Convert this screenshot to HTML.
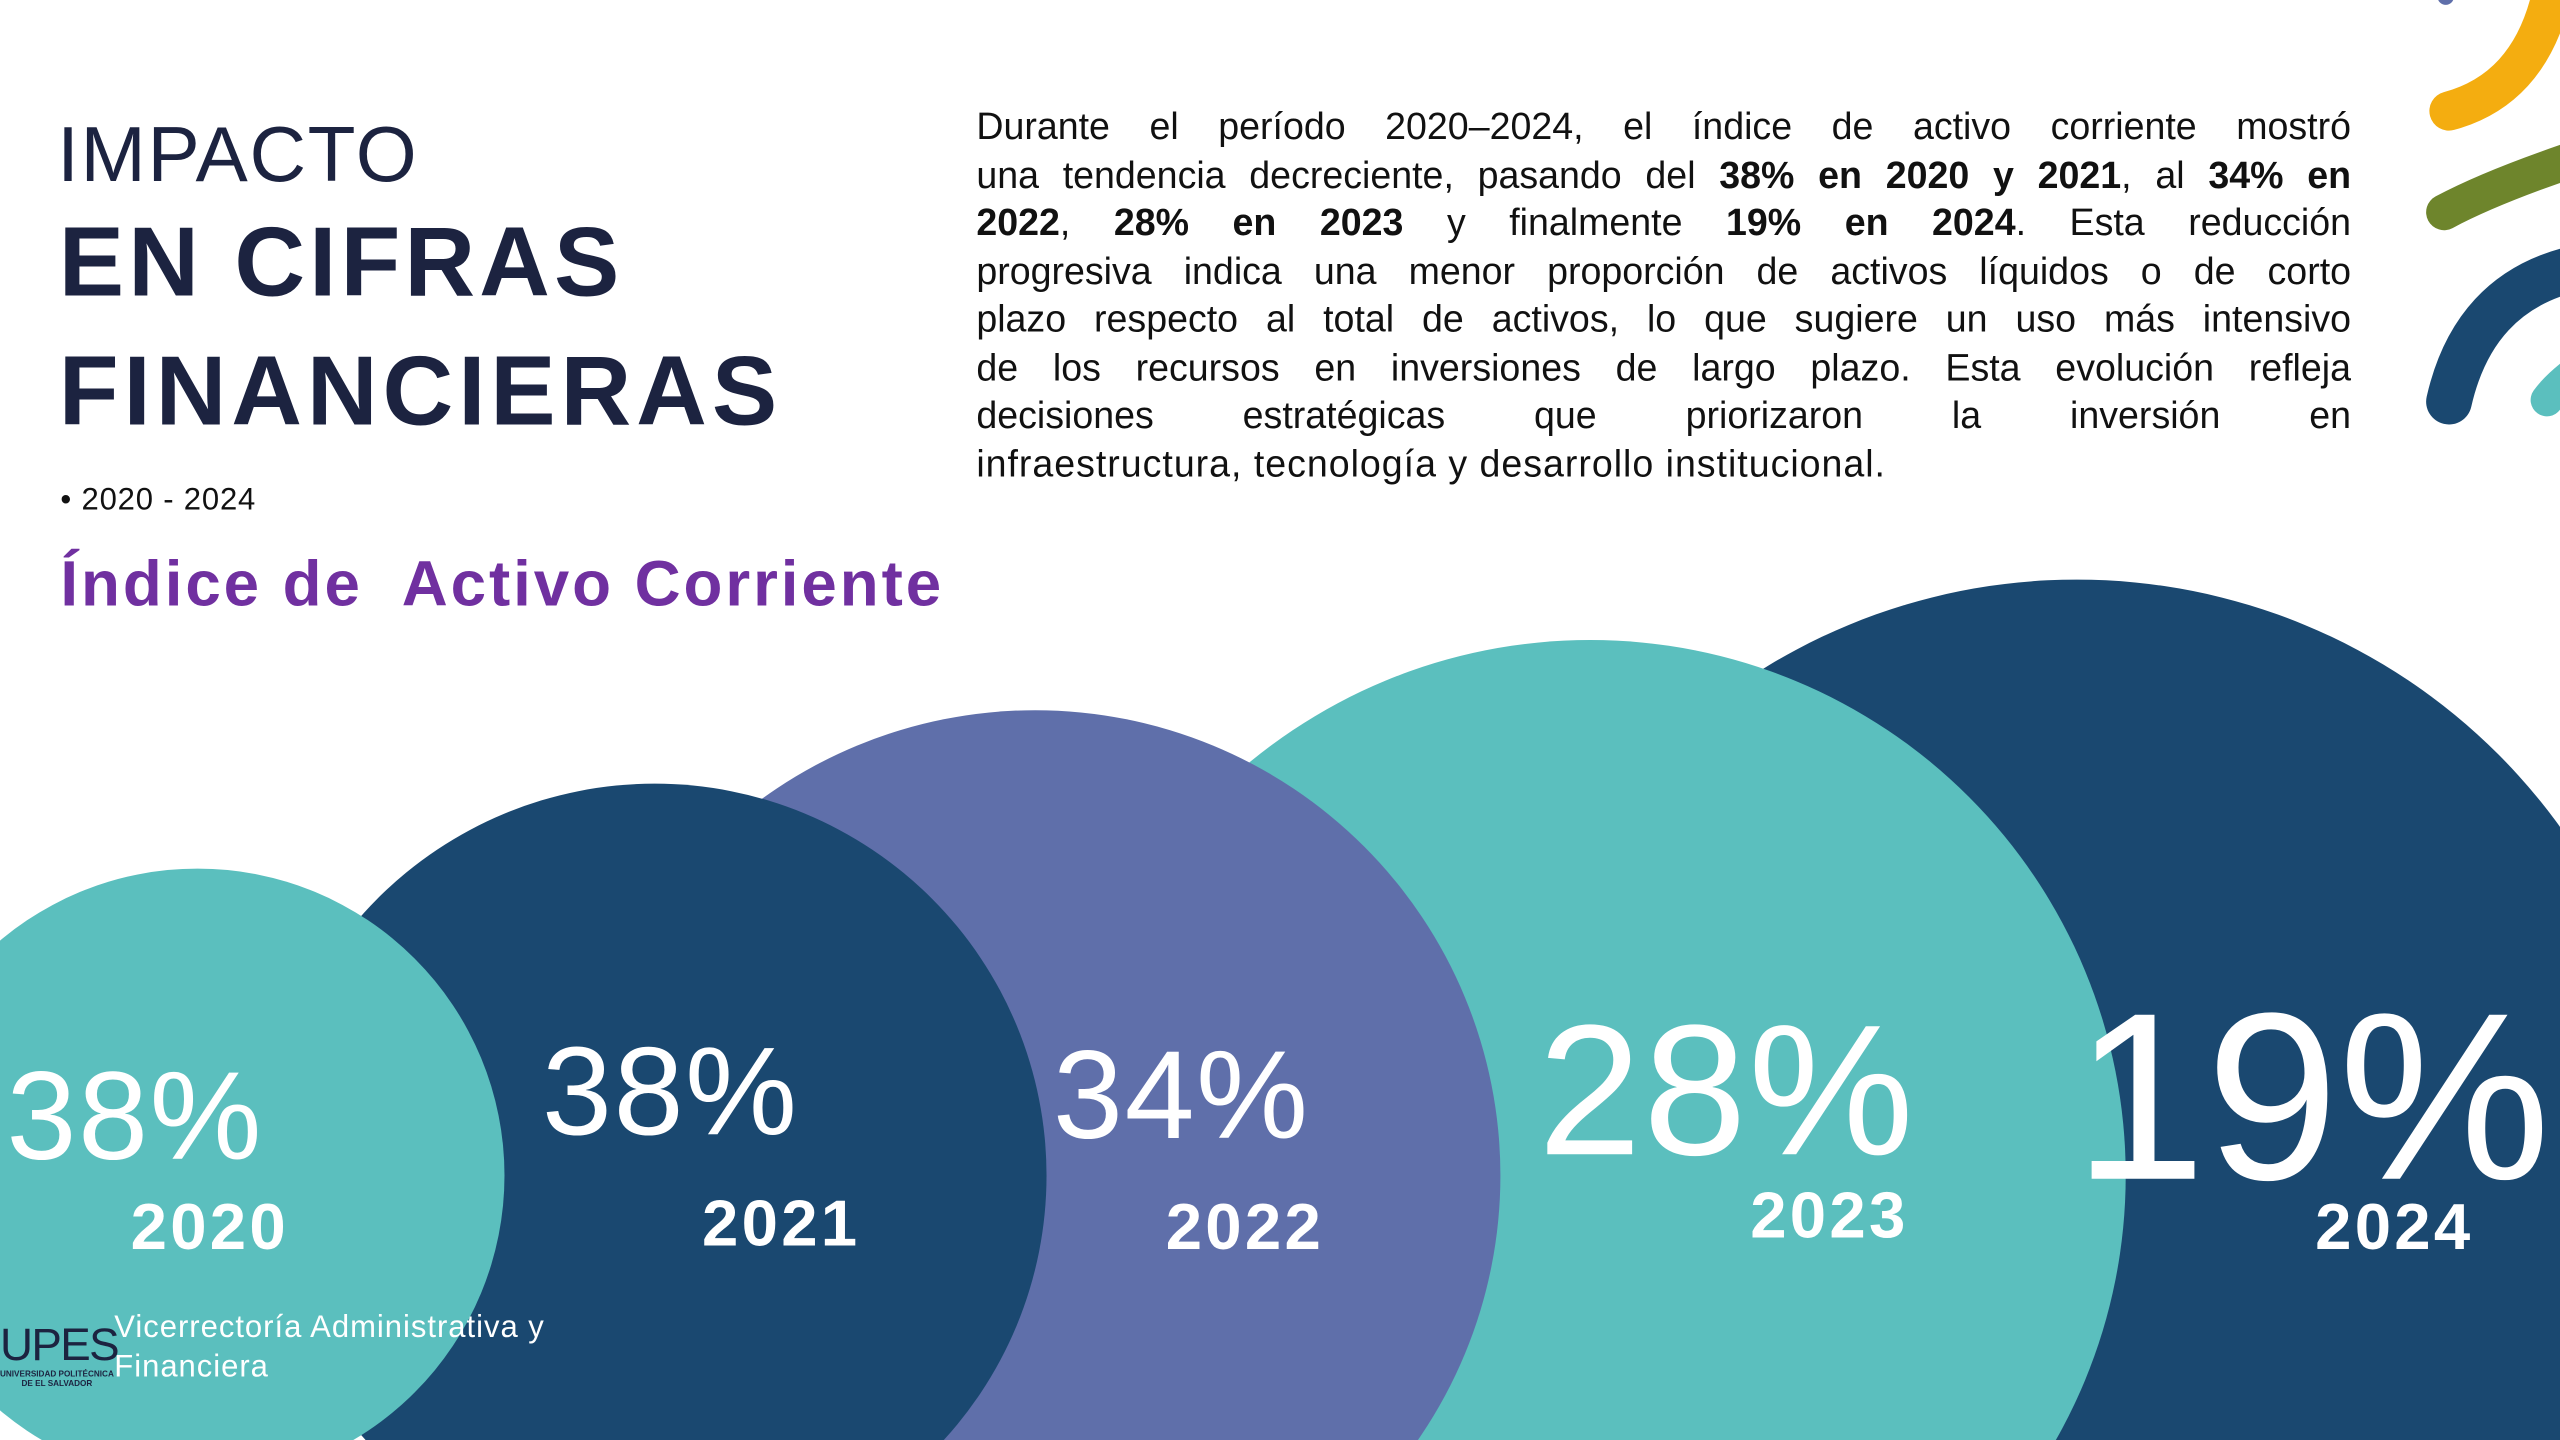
<!DOCTYPE html>
<html><head><meta charset="utf-8"><style>
html,body{margin:0;padding:0;background:#fff;width:2560px;height:1440px;overflow:hidden;}
body{position:relative;}
#s{position:absolute;left:0;top:0;width:1568px;height:882px;overflow:hidden;transform:scale(1.632653);transform-origin:0 0;font-family:"Liberation Sans",sans-serif;}
.a{position:absolute;white-space:nowrap;}
.p{position:absolute;left:598px;width:842px;font-size:23px;color:#111;line-height:29.5px;}
.p div{text-align:justify;text-align-last:justify;height:29.5px;}
.p div.l{text-align-last:left;letter-spacing:0.6px;}
.w{color:#fff;}
.y{font-size:40px;font-weight:bold;letter-spacing:2px;}
</style></head><body><div id="s">
<svg width="1568" height="882" style="position:absolute;left:0;top:0">
<circle cx="1272" cy="720" r="365" fill="#1a4870"/>
<circle cx="974" cy="720" r="328" fill="#5bbfbe"/>
<circle cx="634" cy="720" r="285" fill="#5f6faa"/>
<circle cx="401" cy="720" r="240" fill="#1a4870"/>
<circle cx="121" cy="720" r="188" fill="#5bbfbe"/>
<path d="M1500,68 Q1548,55 1562,0" stroke="#f4ad10" stroke-width="24" fill="none" stroke-linecap="round"/>
<path d="M1497,130 Q1525,115 1575,98" stroke="#6e852c" stroke-width="22" fill="none" stroke-linecap="round"/>
<path d="M1500,246 Q1515,180 1575,165" stroke="#1a4870" stroke-width="28" fill="none" stroke-linecap="round"/>
<path d="M1560,245 Q1565,238 1575,230" stroke="#5bbfbe" stroke-width="20" fill="none" stroke-linecap="round"/>
<circle cx="1498" cy="-2" r="5" fill="#5f6faa"/>
</svg>
<div class="a" style="left:35px;top:68px;font-size:48px;color:#1c2340;letter-spacing:1px;">IMPACTO</div>
<div class="a" style="left:36px;top:126px;font-size:60px;color:#1c2340;font-weight:bold;letter-spacing:2.5px;">EN CIFRAS</div>
<div class="a" style="left:36px;top:205px;font-size:60px;color:#1c2340;font-weight:bold;letter-spacing:3px;">FINANCIERAS</div>
<div class="a" style="left:37px;top:296px;font-size:19px;color:#111;letter-spacing:0.5px;">• 2020 - 2024</div>
<div class="a" style="left:37px;top:337px;font-size:39px;color:#7030a0;font-weight:bold;letter-spacing:1.8px;">Índice de&nbsp; Activo Corriente</div>
<div class="p" style="top:63px">
<div>Durante el período 2020–2024, el índice de activo corriente mostró</div>
<div>una tendencia decreciente, pasando del <b>38% en 2020 y 2021</b>, al <b>34% en</b></div>
<div><b>2022</b>, <b>28% en 2023</b> y finalmente <b>19% en 2024</b>. Esta reducción</div>
<div>progresiva indica una menor proporción de activos líquidos o de corto</div>
<div>plazo respecto al total de activos, lo que sugiere un uso más intensivo</div>
<div>de los recursos en inversiones de largo plazo. Esta evolución refleja</div>
<div>decisiones estratégicas que priorizaron la inversión en</div>
<div class="l">infraestructura, tecnología y desarrollo institucional.</div>
</div>
<div class="a w" style="left:4px;top:640px;font-size:77px;letter-spacing:1px;">38%</div>
<div class="a w" style="left:332px;top:625px;font-size:77px;letter-spacing:1px;">38%</div>
<div class="a w" style="left:645px;top:627px;font-size:77px;letter-spacing:1px;">34%</div>
<div class="a w" style="left:942px;top:603px;font-size:114px;letter-spacing:1px;">28%</div>
<div class="a w" style="left:1270px;top:588px;font-size:146px;">19%</div>
<div class="a w y" style="left:80px;top:730px;">2020</div>
<div class="a w y" style="left:430px;top:728px;">2021</div>
<div class="a w y" style="left:714px;top:730px;">2022</div>
<div class="a w y" style="left:1072px;top:723px;">2023</div>
<div class="a w y" style="left:1418px;top:730px;">2024</div>
<div class="a" style="left:0;top:808px;font-size:28px;color:#1c2340;letter-spacing:-1px;">UPES</div>
<div class="a" style="left:0;top:839px;font-size:5px;color:#1c2340;font-weight:bold;line-height:6px;text-align:center;">UNIVERSIDAD POLITÉCNICA<br>DE EL SALVADOR</div>
<div class="a w" style="left:70px;top:802px;font-size:19px;line-height:24px;letter-spacing:0.6px;">Vicerrectoría Administrativa y<br>Financiera</div>
</div></body></html>
